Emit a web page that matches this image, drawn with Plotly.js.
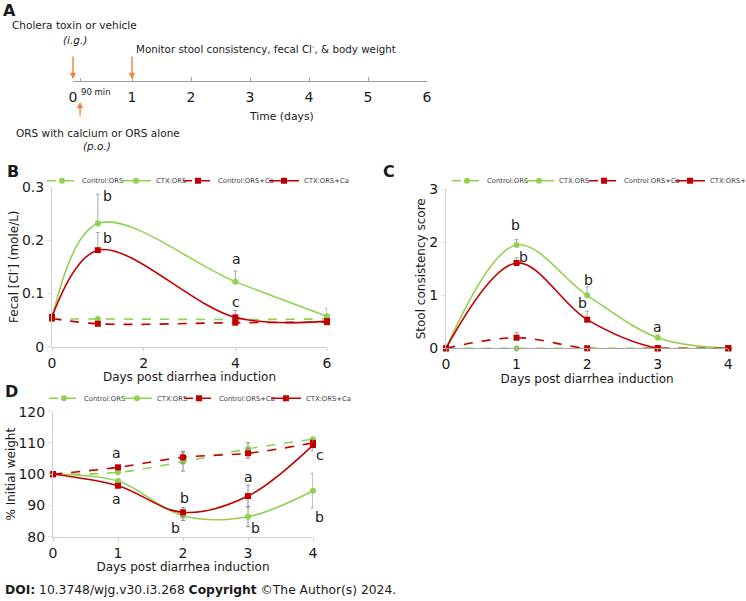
<!DOCTYPE html>
<html><head><meta charset="utf-8">
<script src="https://cdn.plot.ly/plotly-3.0.1.min.js"></script>
<style>html,body{margin:0;padding:0;background:#fff;overflow:hidden}#chart{width:746px;height:601px}</style>
</head><body><div id="chart"></div>
<script>
// ---------- data ----------
const seriesNames = ['Control:ORS', 'CTX:ORS', 'Control:ORS+Ca', 'CTX:ORS+Ca'];

// Panel A timeline
const timelineDays = [0, 1, 2, 3, 4, 5, 6];
const orsDay = 0.12;            // 90 min mark as drawn

// Panel B: fecal chloride (mole/L)
const daysB = [0, 1, 4, 6];
const chlorideControlORS = [0.052, 0.052, 0.051, 0.052];
const chlorideCTXORS     = [0.052, 0.231, 0.122, 0.057];
const chlorideControlCa  = [0.053, 0.043, 0.045, 0.046];
const chlorideCTXCa      = [0.056, 0.181, 0.055, 0.048];
const chlorideErrControlORS = [0.012, 0.003, 0.003, 0.003];
const chlorideErrCTXORS     = [0.010, 0.055, 0.020, 0.015];
const chlorideErrControlCa  = [0.005, 0.003, 0.003, 0.003];
const chlorideErrCTXCa      = [0.008, 0.033, 0.013, 0.005];
const lettersB  = ['b', 'b', 'a', 'c'];
const letterXB  = [1.2, 1.2, 4.03, 4.01];
const letterYB  = [0.283, 0.203, 0.164, 0.083];

// Panel C: stool consistency score
const daysC = [0, 1, 2, 3, 4];
const stoolControlORS = [0, 0, 0, 0, 0];
const stoolCTXORS     = [0, 1.95, 1.0, 0.2, 0];
const stoolControlCa  = [0, 0.2, 0, 0, 0];
const stoolCTXCa      = [0, 1.61, 0.54, 0, 0];
const stoolErrControlORS = [0, 0, 0, 0, 0];
const stoolErrCTXORS     = [0, 0.1, 0.16, 0.05, 0];
const stoolErrControlCa  = [0, 0.1, 0, 0, 0];
const stoolErrCTXCa      = [0, 0.1, 0.16, 0, 0];
const lettersC = ['b', 'b', 'b', 'b', 'a'];
const letterXC = [0.98, 1.1, 2.02, 1.94, 2.99];
const letterYC = [2.33, 1.73, 1.29, 0.85, 0.41];

// Panel D: % initial weight
const daysD = [0, 1, 2, 3, 4];
const weightControlORS = [100, 100.6, 104.0, 108.1, 111.2];
const weightCTXORS     = [100, 97.8, 86.7, 86.4, 94.7];
const weightControlCa  = [100, 102.2, 105.4, 106.7, 110.0];
const weightCTXCa      = [100, 96.3, 87.8, 93.0, 109.3];
const weightErrControlORS = [0, 0.5, 3.0, 2.0, 0.5];
const weightErrCTXORS     = [0, 0.5, 1.5, 3.2, 5.5];
const weightErrControlCa  = [0, 0.5, 2.0, 1.6, 0.5];
const weightErrCTXCa      = [0, 0.5, 1.5, 3.5, 1.8];
const lettersD = ['a', 'a', 'b', 'b', 'a', 'b', 'c', 'b'];
const letterXD = [0.98, 0.98, 2.02, 1.89, 3.0, 3.12, 4.0, 4.0];
const letterYD = [106.7, 92.0, 92.5, 82.7, 99.0, 82.9, 106.1, 86.2];
const letterShiftD = [0, 0, 0, 0, 0, 0, 7, 6];

// ---------- styling ----------
const GREEN = '#92d050', RED = '#c00000', ORANGE = '#f58232';
const FONT = 'DejaVu Sans, Verdana, sans-serif';
const W = 746, H = 601;
const px = x => x / W;
const py = y => 1 - y / H;

// legend text start positions (px) for each panel's four entries
const legendTextB = [82, 156, 218, 304], legendYB = 180.7;
const legendTextC = [487, 559, 624, 710], legendYC = 180.7;
const legendTextD = [84, 157, 219, 306], legendYD = 398.3;

function legendName(n) { return n === 1 ? 'legend' : 'legend' + n; }

function series(x, y, err, idx, xa, ya, legN, symmetric) {
  const green = idx < 2, dashed = idx % 2 === 0;
  const color = green ? GREEN : RED;
  return {
    type: 'scatter', mode: 'lines+markers', x: x, y: y, name: seriesNames[idx],
    xaxis: xa, yaxis: ya, legend: legendName(legN), cliponaxis: false,
    line: {color: color, width: 1.6, dash: dashed ? 'dash' : 'solid', shape: 'spline', smoothing: 1},
    marker: {color: color, size: 6, symbol: green ? 'circle' : 'square'},
    error_y: symmetric
      ? {type: 'data', array: err, color: '#8c8c8c', thickness: 1, width: 2}
      : {type: 'data', symmetric: false, array: err, arrayminus: err.map(() => 0), color: '#a6a6a6', thickness: 1, width: 2}
  };
}

const traces = [
  series(daysB, chlorideControlORS, chlorideErrControlORS, 0, 'x', 'y', 1, false),
  series(daysB, chlorideCTXORS, chlorideErrCTXORS, 1, 'x', 'y', 2, false),
  series(daysB, chlorideControlCa, chlorideErrControlCa, 2, 'x', 'y', 3, false),
  series(daysB, chlorideCTXCa, chlorideErrCTXCa, 3, 'x', 'y', 4, false),
  series(daysC, stoolControlORS, stoolErrControlORS, 0, 'x2', 'y2', 5, false),
  series(daysC, stoolCTXORS, stoolErrCTXORS, 1, 'x2', 'y2', 6, false),
  series(daysC, stoolControlCa, stoolErrControlCa, 2, 'x2', 'y2', 7, false),
  series(daysC, stoolCTXCa, stoolErrCTXCa, 3, 'x2', 'y2', 8, false),
  series(daysD, weightControlORS, weightErrControlORS, 0, 'x3', 'y3', 9, true),
  series(daysD, weightCTXORS, weightErrCTXORS, 1, 'x3', 'y3', 10, true),
  series(daysD, weightControlCa, weightErrControlCa, 2, 'x3', 'y3', 11, true),
  series(daysD, weightCTXCa, weightErrCTXCa, 3, 'x3', 'y3', 12, true)
];

const tickFont = {family: FONT, size: 14, color: '#1a1a1a'};
const titleFont = {family: FONT, size: 12, color: '#1a1a1a'};
function xAxis(domain, range, tickvals, anchor, lineColor) {
  return {domain: domain, range: range, tickvals: tickvals, anchor: anchor, showline: true, linecolor: lineColor,
    linewidth: 1, ticks: 'outside', ticklen: 3, tickcolor: lineColor, showgrid: false, zeroline: false,
    tickfont: tickFont, automargin: false, fixedrange: true,
    title: {text: 'Days post diarrhea induction', font: titleFont, standoff: 2}};
}
function yAxis(domain, range, tickvals, ticktext, anchor, title, standoff) {
  return {domain: domain, range: range, tickvals: tickvals, ticktext: ticktext, anchor: anchor, showline: true,
    linecolor: '#d0d0d0', linewidth: 1, ticks: 'outside', ticklen: 4, tickcolor: '#e0e0e0', showgrid: false,
    zeroline: false, tickfont: tickFont, automargin: false, fixedrange: true,
    title: {text: title, font: titleFont, standoff: standoff}};
}

function letterAnns(texts, xs, ys, xref, yref, shifts) {
  return texts.map((t, i) => ({text: t, x: xs[i], y: ys[i], xref: xref, yref: yref, showarrow: false,
    xshift: shifts ? shifts[i] : 0, font: {family: FONT, size: 14, color: '#1a1a1a'}}));
}
function paperText(text, x, y, size, anchor, extra) {
  return Object.assign({text: text, x: px(x), y: py(y), xref: 'paper', yref: 'paper', showarrow: false,
    xanchor: anchor || 'center', yanchor: 'middle', font: {family: FONT, size: size, color: '#1a1a1a'}}, extra || {});
}
function arrow(xDay, headY, dy) {
  return {text: '', x: xDay, xref: 'x4', y: py(headY), yref: 'paper', showarrow: true, ax: 0, ay: dy,
    arrowhead: 2, arrowsize: 0.9, arrowwidth: 1.4, arrowcolor: ORANGE};
}

const annotations = [].concat(
  letterAnns(lettersB, letterXB, letterYB, 'x', 'y'),
  letterAnns(lettersC, letterXC, letterYC, 'x2', 'y2'),
  letterAnns(lettersD, letterXD, letterYD, 'x3', 'y3', letterShiftD),
  [
    paperText('<b>A</b>', 9, 11, 16),
    paperText('<b>B</b>', 12.5, 172, 16),
    paperText('<b>C</b>', 389, 172, 16),
    paperText('<b>D</b>', 11, 391, 16),
    paperText('Cholera toxin or vehicle', 74.5, 25, 10.5),
    paperText('<i>(i.g.)</i>', 75, 40, 10.5),
    paperText('Monitor stool consistency, fecal Cl<sup>-</sup>, & body weight', 134, 48, 10.3, 'left'),
    paperText('90 min', 79, 92, 8.5, 'left'),
    paperText('ORS with calcium or ORS alone', 97.5, 133, 10.5),
    paperText('<i>(p.o.)</i>', 97, 146, 10.5),
    {text: 'Time (days)', x: 3.54, xref: 'x4', y: py(116), yref: 'paper', yanchor: 'middle', showarrow: false,
      font: {family: FONT, size: 10.8, color: '#1a1a1a'}},
    arrow(timelineDays[0], 79, -24),
    arrow(timelineDays[1], 79, -24),
    arrow(orsDay, 102, 15),
    paperText('<b>DOI:</b> 10.3748/wjg.v30.i3.268 <b>Copyright</b> ©The Author(s) 2024.', 3, 590, 12.3, 'left')
  ]
);

function legendAt(textX, y) {
  return {x: px(textX - 40), y: py(y), xanchor: 'left', yanchor: 'middle', orientation: 'h', bgcolor: 'rgba(0,0,0,0)',
    font: {family: FONT, size: 6.8, color: '#404040'}, itemwidth: 30, borderwidth: 0};
}

const layout = {
  width: W, height: H, margin: {l: 0, r: 0, t: 0, b: 0, autoexpand: false},
  paper_bgcolor: '#fff', plot_bgcolor: 'rgba(0,0,0,0)', showlegend: true, font: {family: FONT},
  xaxis: xAxis([px(52), px(327)], [0, 6], [0, 2, 4, 6], 'y', '#d0d0d0'),
  yaxis: yAxis([py(346.7), py(186.7)], [0, 0.3], [0, 0.1, 0.2, 0.3], ['0', '0.1', '0.2', '0.3'], 'x',
    'Fecal [Cl<sup>-</sup>] (mole/L)', 0),
  xaxis2: xAxis([px(446), px(728.3)], [0, 4], [0, 1, 2, 3, 4], 'y2', '#a6a6a6'),
  yaxis2: yAxis([py(348.3), py(189.3)], [0, 3], [0, 1, 2, 3], ['0', '1', '2', '3'], 'x2', 'Stool consistency score', 1),
  xaxis3: xAxis([px(53), px(313)], [0, 4], [0, 1, 2, 3, 4], 'y3', '#d0d0d0'),
  yaxis3: yAxis([py(536.7), py(411.7)], [80, 120], [80, 90, 100, 110, 120], ['80', '90', '100', '110', '120'], 'x3',
    '% Initial weight', 0),
  xaxis4: {domain: [px(73), px(427)], range: [0, 6], anchor: 'y4', showline: true, linecolor: '#a0a0a0',
    ticks: 'inside', ticklen: 4, tickcolor: '#a0a0a0', tickvals: timelineDays,
    minor: {tickvals: [orsDay], ticks: 'inside', ticklen: 3, tickcolor: '#a0a0a0', showgrid: false},
    showgrid: false, zeroline: false, tickfont: tickFont, ticklabelstandoff: 3, fixedrange: true},
  yaxis4: {domain: [py(81), py(81) + 0.04], range: [0, 1], visible: false, fixedrange: true},
  annotations: annotations
};
const legendTexts = [].concat(legendTextB, legendTextC, legendTextD);
const legendYs = [legendYB, legendYB, legendYB, legendYB, legendYC, legendYC, legendYC, legendYC,
                  legendYD, legendYD, legendYD, legendYD];
legendTexts.forEach((t, i) => { layout[legendName(i + 1)] = legendAt(t, legendYs[i]); });
// last C entry runs off the right edge in the reference: give it a fixed width so it is clipped, not shifted
Object.assign(layout.legend8, {entrywidth: 30, entrywidthmode: 'pixels'});

Plotly.newPlot('chart', traces, layout, {displayModeBar: false, staticPlot: true});
</script>
</body></html>
